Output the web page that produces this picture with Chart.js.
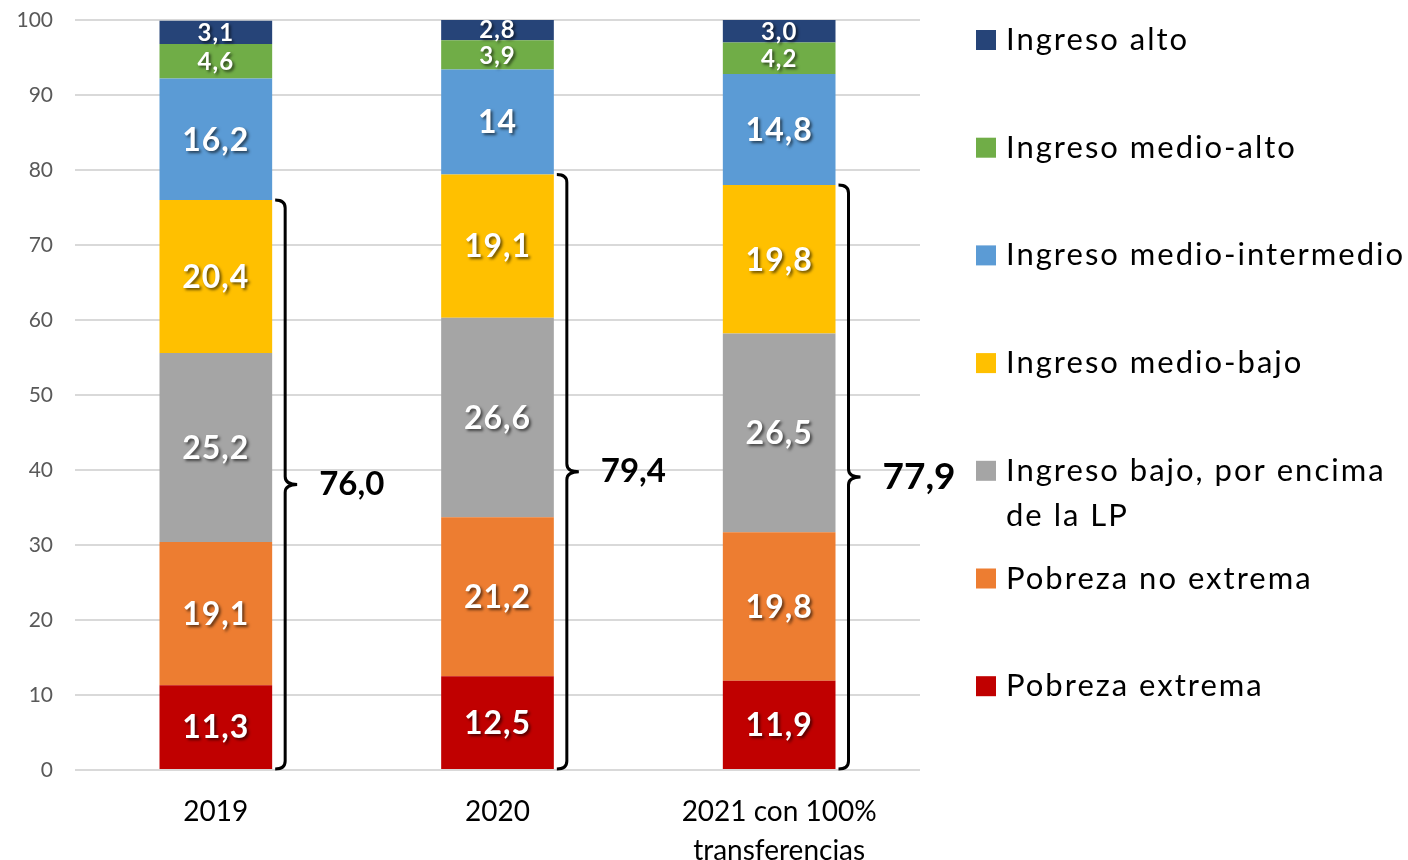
<!DOCTYPE html>
<html>
<head>
<meta charset="utf-8">
<script src="https://cdn.jsdelivr.net/npm/chart.js@4.4.1/dist/chart.umd.min.js"></script>
<style>
  html, body { margin: 0; padding: 0; background: #fff; }
  #wrap { width: 1408px; height: 860px; }
</style>
</head>
<body>
<div id="wrap"><canvas id="grafico" width="1408" height="860"></canvas></div>
<script>
// categorias y valores (porcentaje de la poblacion)
var categorias = ['2019', '2020', ['2021 con 100%', 'transferencias']];
var pobrezaExtrema   = [11.3, 12.5, 11.9];
var pobrezaNoExtrema = [19.1, 21.2, 19.8];
var ingresoBajo      = [25.2, 26.6, 26.5];
var ingresoMedioBajo = [20.4, 19.1, 19.8];
var ingresoMedioInt  = [16.2, 14.0, 14.8];
var ingresoMedioAlto = [4.6, 3.9, 4.2];
var ingresoAlto      = [3.1, 2.8, 3.0];
var totales          = ['76,0', '79,4', '77,9'];
var tickY            = [0, 10, 20, 30, 40, 50, 60, 70, 80, 90, 100];

var fuente = 'Lato, "Open Sans", sans-serif';

var series = [
  { label: 'Pobreza extrema', data: pobrezaExtrema, color: '#C00000' },
  { label: 'Pobreza no extrema', data: pobrezaNoExtrema, color: '#ED7D31' },
  { label: ['Ingreso bajo, por encima', 'de la LP'], data: ingresoBajo, color: '#A5A5A5' },
  { label: 'Ingreso medio-bajo', data: ingresoMedioBajo, color: '#FFC000' },
  { label: 'Ingreso medio-intermedio', data: ingresoMedioInt, color: '#5B9BD5' },
  { label: 'Ingreso medio-alto', data: ingresoMedioAlto, color: '#70AD47' },
  { label: 'Ingreso alto', data: ingresoAlto, color: '#264478' }
];

function fmt(v) {
  if (v === 14) return '14';
  return v.toFixed(1).replace('.', ',');
}

// etiquetas blancas dentro de cada segmento
var etiquetas = {
  id: 'etiquetas',
  afterDatasetsDraw: function(chart) {
    var ctx = chart.ctx;
    ctx.save();
    chart.data.datasets.forEach(function(ds, i) {
      var meta = chart.getDatasetMeta(i);
      meta.data.forEach(function(bar, j) {
        var v = ds.data[j];
        var size = v < 6 ? 24 : 32;
        var y = (bar.y + bar.base) / 2;
        ctx.font = 'bold ' + size + 'px ' + fuente;
        ctx.letterSpacing = '1px';
        ctx.textAlign = 'center';
        ctx.textBaseline = 'middle';
        ctx.shadowColor = 'rgba(0,0,0,0.6)';
        ctx.shadowOffsetX = 2;
        ctx.shadowOffsetY = 2;
        ctx.shadowBlur = 3;
        ctx.fillStyle = '#ffffff';
        ctx.fillText(fmt(v), bar.x, y + 1);
      });
    });
    ctx.restore();
  }
};

// llaves con el total de poblacion bajo ingreso medio-bajo
var llaves = {
  id: 'llaves',
  afterDraw: function(chart) {
    var ctx = chart.ctx;
    var ys = chart.scales.y;
    var m3 = chart.getDatasetMeta(3);
    ctx.save();
    m3.data.forEach(function(bar, j) {
      var top = bar.y;
      var bot = ys.getPixelForValue(0) - 1;
      var x0 = bar.x + bar.width / 2 + 3;
      var xl = x0 + 10;
      var tip = xl + 12;
      var mid = (top + bot) / 2;
      var r = 6;
      ctx.strokeStyle = '#000';
      ctx.lineWidth = 3;
      ctx.beginPath();
      ctx.moveTo(x0, top);
      ctx.quadraticCurveTo(xl, top, xl, top + r + 2);
      ctx.lineTo(xl, mid - r - 2);
      ctx.quadraticCurveTo(xl, mid, tip, mid);
      ctx.quadraticCurveTo(xl, mid, xl, mid + r + 2);
      ctx.lineTo(xl, bot - r - 2);
      ctx.quadraticCurveTo(xl, bot, x0, bot);
      ctx.stroke();

      ctx.fillStyle = '#000';
      ctx.font = 'bold ' + (j === 2 ? 37 : 33) + 'px ' + fuente;
      ctx.textAlign = 'left';
      ctx.textBaseline = 'middle';
      ctx.fillText(totales[j], tip + 22, mid);
    });
    ctx.restore();
  }
};

// leyenda a la derecha, de arriba hacia abajo
var leyenda = {
  id: 'leyenda',
  afterDraw: function(chart) {
    var ctx = chart.ctx;
    ctx.save();
    var x = 976;
    var y0 = 40;
    var paso = 107.7;
    ctx.font = '31px ' + fuente;
    ctx.letterSpacing = '2px';
    ctx.textBaseline = 'middle';
    ctx.textAlign = 'left';
    for (var k = 0; k < series.length; k++) {
      var s = series[series.length - 1 - k];
      var y = y0 + k * paso;
      ctx.fillStyle = s.color;
      ctx.fillRect(x, y - 10, 20, 20);
      ctx.fillStyle = '#000';
      var lineas = Array.isArray(s.label) ? s.label : [s.label];
      lineas.forEach(function(t, n) {
        ctx.fillText(t, x + 30, y + n * 45);
      });
    }
    ctx.restore();
  }
};

new Chart(document.getElementById('grafico'), {
  type: 'bar',
  data: {
    labels: categorias,
    datasets: series.map(function(s) {
      return {
        label: Array.isArray(s.label) ? s.label.join(' ') : s.label,
        data: s.data,
        backgroundColor: s.color,
        borderWidth: 0,
        barPercentage: 0.8,
        categoryPercentage: 0.5
      };
    })
  },
  options: {
    responsive: false,
    animation: false,
    layout: { padding: { top: 20, right: 488, left: 0, bottom: 0 } },
    plugins: {
      legend: { display: false },
      tooltip: { enabled: false }
    },
    scales: {
      x: {
        stacked: true,
        grid: { display: false },
        border: { display: false },
        ticks: {
          color: '#000',
          font: { family: fuente, size: 28, lineHeight: 1.4 },
          padding: 14,
          maxRotation: 0
        },
        afterFit: function(s) { s.height = 90; }
      },
      y: {
        stacked: true,
        min: 0,
        max: 100,
        afterBuildTicks: function(s) {
          s.ticks = tickY.map(function(v) { return { value: v }; });
        },
        grid: { color: '#d9d9d9', lineWidth: 2, drawTicks: false },
        border: { display: false },
        ticks: {
          color: '#595959',
          font: { family: fuente, size: 21 },
          padding: 22
        },
        afterFit: function(s) {
          s.width = 75;
          s.paddingTop = 0;
          s.paddingBottom = 0;
        }
      }
    }
  },
  plugins: [etiquetas, llaves, leyenda]
});
</script>
</body>
</html>
